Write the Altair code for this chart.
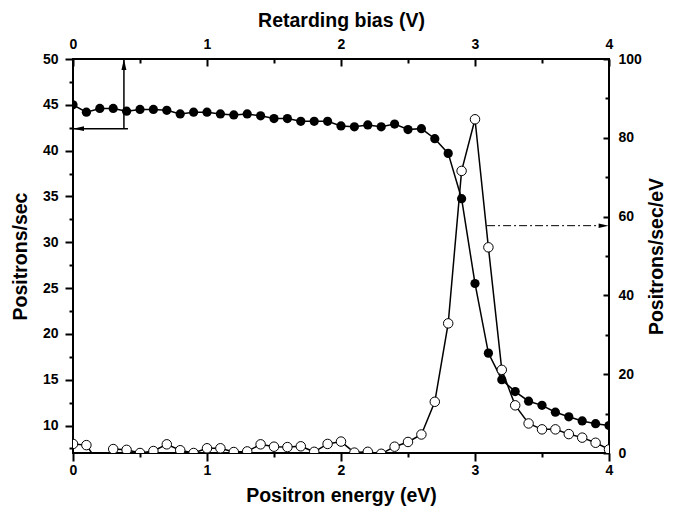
import altair as alt
import pandas as pd

# ---------------- data ----------------
energy = [0.0, 0.1, 0.2, 0.3, 0.4, 0.5, 0.6, 0.7, 0.8, 0.9,
          1.0, 1.1, 1.2, 1.3, 1.4, 1.5, 1.6, 1.7, 1.8, 1.9,
          2.0, 2.1, 2.2, 2.3, 2.4, 2.5, 2.6, 2.7, 2.8, 2.9,
          3.0, 3.1, 3.2, 3.3, 3.4, 3.5, 3.6, 3.7, 3.8, 3.9, 4.0]

positrons_per_sec = [45.0, 44.2, 44.6, 44.6, 44.3, 44.5, 44.5, 44.4, 44.0, 44.2,
                     44.2, 44.0, 43.9, 44.0, 43.8, 43.5, 43.5, 43.2, 43.2, 43.2,
                     42.7, 42.6, 42.8, 42.6, 42.9, 42.3, 42.4, 41.3, 39.7, 34.75,
                     25.5, 17.9, 15.0, 13.7, 12.65, 12.2, 11.45, 10.95, 10.5, 10.2, 10.0]

positrons_per_sec_ev = [2.3, 2.0, -3.0, 1.0, 0.8, 0.0, 0.5, 2.2, 0.7, 0.0,
                        1.2, 1.2, 0.25, 0.4, 2.2, 1.6, 1.5, 1.7, 0.3, 2.3,
                        2.9, 0.1, 0.3, -0.2, 1.6, 2.8, 4.7, 13.0, 32.9, 71.6,
                        84.7, 52.2, 21.1, 12.1, 7.5, 6.0, 6.0, 4.8, 3.9, 2.6, 0.9]

x_major = [0, 1, 2, 3, 4]
x_minor = [0.5, 1.5, 2.5, 3.5]
left_major = [10, 15, 20, 25, 30, 35, 40, 45, 50]
left_minor = [7.5, 12.5, 17.5, 22.5, 27.5, 32.5, 37.5, 42.5, 47.5]
right_major = [0, 20, 40, 60, 80, 100]
right_minor = [10, 30, 50, 70, 90]

# annotation arrows (data coordinates)
left_arrow_x = [0.38]
left_arrow_x_end = [0.41]
left_arrow_level = [42.4]
left_arrow_top = [50.0]
up_head_y = [49.4]
left_head_x = [0.041]
right_arrow_x = [3.09]
right_arrow_x_end = [3.96]
right_arrow_level = [57.7]

FONT = "Liberation Sans"

df = pd.DataFrame({"energy": energy, "counts": positrons_per_sec,
                   "rate": positrons_per_sec_ev})

xs = alt.Scale(domain=[0, 4], nice=False, zero=False)
yl = alt.Scale(domain=[7, 50], nice=False, zero=False)
yr = alt.Scale(domain=[0, 100], nice=False, zero=False)

common = dict(grid=False, domain=False, tickColor="black", tickWidth=2,
              labelFont=FONT, labelFontSize=14, labelFontWeight="bold",
              labelColor="black", labelFlush=False, labelOverlap=False,
              titleFont=FONT, titleFontSize=19.5, titleFontWeight="bold",
              titleColor="black", format="d")
minor = dict(grid=False, domain=False, tickColor="black", tickWidth=2,
             labels=False, title=None)

bottom_axis = alt.Axis(orient="bottom", title="Positron energy (eV)", values=x_major,
                       tickSize=8, labelPadding=2, titlePadding=9, **common)
top_axis = alt.Axis(orient="top", title="Retarding bias (V)", values=x_major,
                    tickSize=7, offset=-7, labelPadding=8, titlePadding=7, **common)
left_axis = alt.Axis(orient="left", title="Positrons/sec", values=left_major,
                     tickSize=8, labelPadding=7, titlePadding=12, **common)
right_axis = alt.Axis(orient="right", title="Positrons/sec/eV", values=right_major,
                      tickSize=6, offset=-6, labelPadding=9, titlePadding=25,
                      titleAngle=270, **common)

bottom_minor = alt.Axis(orient="bottom", values=x_minor, tickSize=4, **minor)
top_minor = alt.Axis(orient="top", values=x_minor, tickSize=4, offset=-4, **minor)
left_minor_axis = alt.Axis(orient="left", values=left_minor, tickSize=4, **minor)
right_minor_axis = alt.Axis(orient="right", values=right_minor, tickSize=4, offset=-4,
                            **minor)

base = alt.Chart(df)

# ---- left (filled circles) ----
line_f = base.mark_line(color="black", strokeWidth=1.5, clip=True).encode(
    x=alt.X("energy:Q", scale=xs, axis=bottom_axis),
    y=alt.Y("counts:Q", scale=yl, axis=left_axis))
pts_f = base.mark_point(shape="circle", filled=True, color="black", size=85,
                        opacity=1, clip=True).encode(
    x=alt.X("energy:Q", scale=xs),
    y=alt.Y("counts:Q", scale=yl))

ann_v = pd.DataFrame({"energy": left_arrow_x, "counts": left_arrow_level,
                      "ay2": left_arrow_top, "hy": up_head_y})
ann_h = pd.DataFrame({"energy": [0.0], "ax2": left_arrow_x_end,
                      "counts": left_arrow_level, "hx": left_head_x})

rule_v = alt.Chart(ann_v).mark_rule(color="black", strokeWidth=1.5).encode(
    x=alt.X("energy:Q", scale=xs),
    y=alt.Y("counts:Q", scale=yl), y2="ay2:Q")
head_up = alt.Chart(ann_v).mark_point(shape="M0,-1L0.45,1L-0.45,1Z", filled=True,
                                      color="black", size=121, opacity=1).encode(
    x=alt.X("energy:Q", scale=xs),
    y=alt.Y("hy:Q", scale=yl))
rule_h = alt.Chart(ann_h).mark_rule(color="black", strokeWidth=1.5).encode(
    x=alt.X("energy:Q", scale=xs), x2="ax2:Q",
    y=alt.Y("counts:Q", scale=yl))
head_left = alt.Chart(ann_h).mark_point(shape="M-1,0L1,-0.45L1,0.45Z", filled=True,
                                        color="black", size=121, opacity=1).encode(
    x=alt.X("hx:Q", scale=xs),
    y=alt.Y("counts:Q", scale=yl))

left_layer = alt.layer(line_f, pts_f, rule_v, head_up, rule_h, head_left)

# ---- right (open circles) ----
line_o = base.mark_line(color="black", strokeWidth=1.5, clip=True).encode(
    x=alt.X("energy:Q", scale=xs, axis=top_axis),
    y=alt.Y("rate:Q", scale=yr, axis=right_axis))
pts_o = base.mark_point(shape="circle", filled=True, fill="white", stroke="black",
                        strokeWidth=1, size=90, opacity=1, clip=True).encode(
    x=alt.X("energy:Q", scale=xs),
    y=alt.Y("rate:Q", scale=yr))

ann_r = pd.DataFrame({"energy": right_arrow_x, "ax2": right_arrow_x_end,
                      "rate": right_arrow_level})
rule_r = alt.Chart(ann_r).mark_rule(color="black", strokeWidth=1,
                                    strokeDash=[8, 3, 2, 3]).encode(
    x=alt.X("energy:Q", scale=xs), x2="ax2:Q",
    y=alt.Y("rate:Q", scale=yr))
head_right = alt.Chart(ann_r).mark_point(shape="M1,0L-1,-0.45L-1,0.45Z", filled=True,
                                         color="black", size=100, opacity=1).encode(
    x=alt.X("ax2:Q", scale=xs),
    y=alt.Y("rate:Q", scale=yr))

right_layer = alt.layer(line_o, pts_o, rule_r, head_right)

# ---- invisible layers that only carry the minor-tick axes ----
minor_lb = base.mark_point(opacity=0).encode(
    x=alt.X("energy:Q", scale=xs, axis=bottom_minor),
    y=alt.Y("counts:Q", scale=yl, axis=left_minor_axis))
minor_rt = base.mark_point(opacity=0).encode(
    x=alt.X("energy:Q", scale=xs, axis=top_minor),
    y=alt.Y("rate:Q", scale=yr, axis=right_minor_axis))

chart = (
    alt.layer(left_layer, right_layer, minor_lb, minor_rt)
    .resolve_scale(y="independent")
    .resolve_axis(x="independent", y="independent")
    .properties(width=536, height=394,
                autosize=alt.AutoSizeParams(type="none"),
                padding={"left": 73, "top": 59, "right": 71, "bottom": 54},
                background="white")
    .configure_view(stroke="black", strokeWidth=2)
)

chart.save("out.html", embed_options={"renderer": "svg", "actions": False})
